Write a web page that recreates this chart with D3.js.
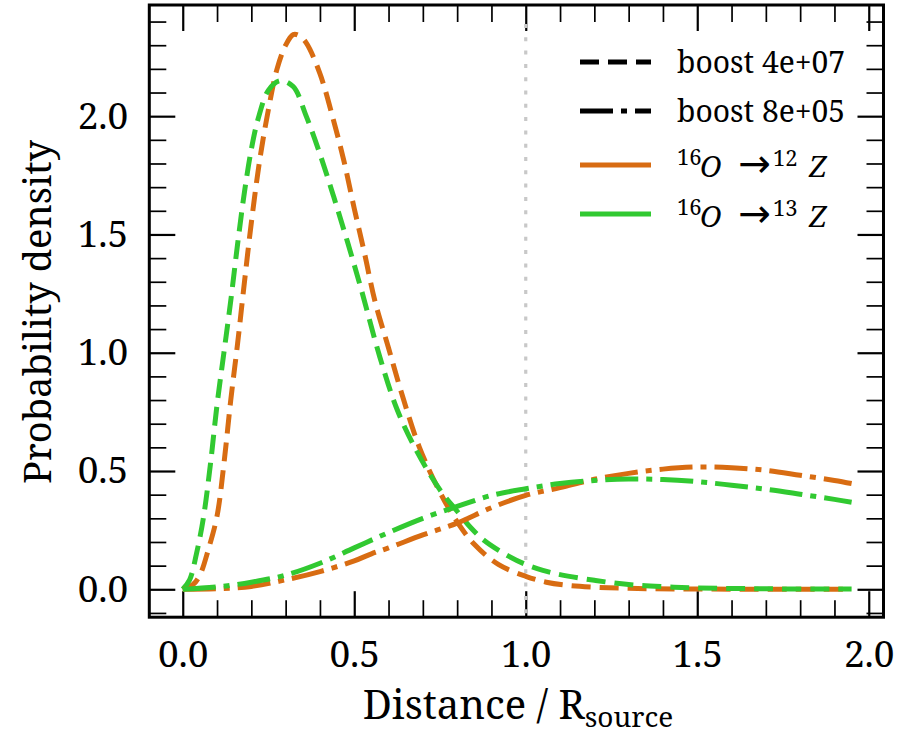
<!DOCTYPE html>
<html>
<head>
<meta charset="utf-8">
<script src="https://cdn.jsdelivr.net/npm/d3@7"></script>
<style>
  html, body { margin: 0; padding: 0; background: #fff; }
  svg { display: block; }
</style>
</head>
<body>
<svg id="chart" width="906" height="734"></svg>
<script>
// Distance / R_source vs probability density, [x, y] samples per curve
const o12Boost4e7 = [
  [0, 0], [0.03, 0.02], [0.05, 0.06], [0.075, 0.17], [0.1, 0.31], [0.12, 0.53],
  [0.14, 0.8], [0.16, 1.04], [0.18, 1.3], [0.2, 1.55], [0.225, 1.82], [0.25, 2.03],
  [0.275, 2.2], [0.3, 2.3], [0.322, 2.345], [0.34, 2.34], [0.36, 2.31], [0.4, 2.18],
  [0.44, 1.98], [0.47, 1.81], [0.5, 1.61], [0.53, 1.42], [0.56, 1.22], [0.6, 1.02],
  [0.64, 0.82], [0.69, 0.6], [0.75, 0.41], [0.8, 0.285], [0.85, 0.19], [0.92, 0.105],
  [1.0, 0.055], [1.06, 0.03], [1.12, 0.017], [1.2, 0.009], [1.3, 0.004], [1.5, 0.001],
  [1.95, 0]
];
const o13Boost4e7 = [
  [0, 0], [0.02, 0.04], [0.04, 0.15], [0.06, 0.3], [0.08, 0.52], [0.1, 0.78],
  [0.12, 1.0], [0.14, 1.22], [0.16, 1.46], [0.18, 1.68], [0.2, 1.86], [0.22, 1.99],
  [0.25, 2.11], [0.284, 2.15], [0.322, 2.125], [0.36, 2.0], [0.4, 1.84], [0.44, 1.66],
  [0.48, 1.47], [0.52, 1.27], [0.575, 0.98], [0.625, 0.76], [0.68, 0.59], [0.75, 0.42],
  [0.8, 0.33], [0.84, 0.26], [0.88, 0.205], [0.95, 0.14], [1.0, 0.105], [1.05, 0.08],
  [1.1, 0.062], [1.2, 0.038], [1.3, 0.02], [1.4, 0.011], [1.5, 0.006], [1.7, 0.002],
  [1.95, 0.001]
];
const o12Boost8e5 = [
  [0, 0], [0.1, 0.002], [0.2, 0.012], [0.3, 0.04], [0.4, 0.075], [0.5, 0.12],
  [0.55, 0.15], [0.6, 0.175], [0.7, 0.23], [0.8, 0.28], [0.9, 0.345], [1.0, 0.397],
  [1.1, 0.43], [1.2, 0.465], [1.3, 0.49], [1.4, 0.508], [1.5, 0.517], [1.6, 0.514],
  [1.7, 0.503], [1.8, 0.482], [1.9, 0.46], [1.95, 0.447]
];
const o13Boost8e5 = [
  [0, 0], [0.1, 0.01], [0.2, 0.03], [0.3, 0.06], [0.4, 0.11], [0.5, 0.175],
  [0.6, 0.24], [0.7, 0.3], [0.8, 0.35], [0.9, 0.397], [1.0, 0.425], [1.1, 0.447],
  [1.2, 0.46], [1.3, 0.466], [1.4, 0.464], [1.5, 0.455], [1.6, 0.44], [1.7, 0.423],
  [1.8, 0.402], [1.9, 0.38], [1.95, 0.368]
];

const xMajorTicks = [0, 0.5, 1.0, 1.5, 2.0];
const xMinorTicks = [0.1, 0.2, 0.3, 0.4, 0.6, 0.7, 0.8, 0.9, 1.1, 1.2, 1.3, 1.4, 1.6, 1.7, 1.8, 1.9];
const yMajorTicks = [0, 0.5, 1.0, 1.5, 2.0];
const yMinorTicks = [-0.1, 0.1, 0.2, 0.3, 0.4, 0.6, 0.7, 0.8, 0.9, 1.1, 1.2, 1.3, 1.4, 1.6, 1.7, 1.8, 1.9, 2.1, 2.2, 2.3, 2.4];
const referenceRadius = 1.0;

const orange = "#d86c12";
const green = "#31c931";
const FONT = "Noto Serif, Liberation Serif, serif";

const series = [
  { data: o12Boost4e7, color: orange, dash: "19,9" },
  { data: o13Boost4e7, color: green, dash: "19,9" },
  { data: o12Boost8e5, color: orange, dash: "33,8,6,8" },
  { data: o13Boost8e5, color: green, dash: "33,8,6,8" }
];

const legendItems = [
  { kind: "style", dash: "19,9", color: "#000", label: "boost 4e+07" },
  { kind: "style", dash: "33,8,6,8", color: "#000", label: "boost 8e+05" },
  { kind: "isotope", dash: null, color: orange, mass: "12" },
  { kind: "isotope", dash: null, color: green, mass: "13" }
];

const svg = d3.select("#chart").attr("font-family", FONT);
const plotLeft = 149.3, plotRight = 883.5, plotTop = 5, plotBottom = 617.2;

const x = d3.scaleLinear().domain([-0.0975, 2.043]).range([plotLeft, plotRight]);
const y = d3.scaleLinear().domain([-0.118, 2.47]).range([plotBottom, plotTop]);

const fmt = d3.format(".1f");
const majorLen = 26, minorLen = 17;

function styleAxis(g, width) {
  g.attr("font-family", FONT);
  g.select(".domain").remove();
  g.selectAll(".tick line").attr("stroke", "#000").attr("stroke-width", width);
}
function styleLabels(g) {
  g.selectAll(".tick text")
    .attr("font-size", 37).attr("fill", "#000").attr("font-family", FONT);
}

// Bottom axis with labels
svg.append("g").attr("transform", `translate(0,${plotBottom})`)
  .call(d3.axisBottom(x).tickValues(xMajorTicks).tickFormat(fmt).tickSizeInner(-majorLen).tickSizeOuter(0).tickPadding(24))
  .call(g => styleAxis(g, 2.2))
  .call(styleLabels);
svg.append("g").attr("transform", `translate(0,${plotBottom})`)
  .call(d3.axisBottom(x).tickValues(xMinorTicks).tickFormat("").tickSizeInner(-minorLen).tickSizeOuter(0))
  .call(g => styleAxis(g, 1.7));

// Top axis (ticks only)
svg.append("g").attr("transform", `translate(0,${plotTop})`)
  .call(d3.axisTop(x).tickValues(xMajorTicks).tickFormat("").tickSizeInner(-majorLen).tickSizeOuter(0))
  .call(g => styleAxis(g, 2.2));
svg.append("g").attr("transform", `translate(0,${plotTop})`)
  .call(d3.axisTop(x).tickValues(xMinorTicks).tickFormat("").tickSizeInner(-minorLen).tickSizeOuter(0))
  .call(g => styleAxis(g, 1.7));

// Left axis with labels
svg.append("g").attr("transform", `translate(${plotLeft},0)`)
  .call(d3.axisLeft(y).tickValues(yMajorTicks).tickFormat(fmt).tickSizeInner(-majorLen).tickSizeOuter(0).tickPadding(21))
  .call(g => styleAxis(g, 2.2))
  .call(styleLabels);
svg.append("g").attr("transform", `translate(${plotLeft},0)`)
  .call(d3.axisLeft(y).tickValues(yMinorTicks).tickFormat("").tickSizeInner(-minorLen).tickSizeOuter(0))
  .call(g => styleAxis(g, 1.7));

// Right axis (ticks only)
svg.append("g").attr("transform", `translate(${plotRight},0)`)
  .call(d3.axisRight(y).tickValues(yMajorTicks).tickFormat("").tickSizeInner(-majorLen).tickSizeOuter(0))
  .call(g => styleAxis(g, 2.2));
svg.append("g").attr("transform", `translate(${plotRight},0)`)
  .call(d3.axisRight(y).tickValues(yMinorTicks).tickFormat("").tickSizeInner(-minorLen).tickSizeOuter(0))
  .call(g => styleAxis(g, 1.7));

// Source radius marker
svg.append("line")
  .attr("x1", x(referenceRadius)).attr("x2", x(referenceRadius))
  .attr("y1", y.range()[0] - 4).attr("y2", y.range()[1] + 10)
  .attr("stroke", "#c8c8c8").attr("stroke-width", 3.2).attr("stroke-dasharray", "4,9.3");

// Curves
const line = d3.line().x(d => x(d[0])).y(d => y(d[1])).curve(d3.curveCatmullRom.alpha(0.5));
svg.append("g").attr("fill", "none")
  .selectAll("path").data(series).join("path")
  .attr("d", d => line(d.data))
  .attr("stroke", d => d.color)
  .attr("stroke-width", 5)
  .attr("stroke-dasharray", d => d.dash);

// Frame
svg.append("rect")
  .attr("x", plotLeft).attr("y", plotTop)
  .attr("width", plotRight - plotLeft).attr("height", plotBottom - plotTop)
  .attr("fill", "none").attr("stroke", "#000").attr("stroke-width", 3);

// Legend
const legendLineY = [62, 111, 165, 214];
const legendTextY = [72.7, 121.7, 176.7, 226.7];
const legendX = 677;
const legend = svg.append("g").attr("font-family", FONT).attr("fill", "#000");
legendItems.forEach((item, i) => {
  const by = legendTextY[i];
  legend.append("line")
    .attr("x1", 580).attr("x2", 651)
    .attr("y1", legendLineY[i]).attr("y2", legendLineY[i])
    .attr("stroke", item.color).attr("stroke-width", 5)
    .attr("stroke-dasharray", item.dash);
  if (item.kind === "style") {
    legend.append("text").attr("x", legendX).attr("y", by)
      .attr("font-size", 30).text(item.label);
  } else {
    const t = legend.append("text").attr("y", by).attr("font-size", 29);
    t.append("tspan").attr("x", legendX).attr("y", by - 12).attr("font-size", 22).text("16");
    t.append("tspan").attr("x", legendX + 23).attr("y", by).attr("font-style", "italic").text("O");
    t.append("tspan").attr("x", legendX + 61).attr("y", by)
      .attr("font-family", "DejaVu Sans").attr("font-size", 39).text("\u2192");
    t.append("tspan").attr("x", legendX + 96).attr("y", by - 11).attr("font-size", 22).text(item.mass);
    t.append("tspan").attr("x", legendX + 132).attr("y", by).attr("font-style", "italic").text("Z");
  }
});

// Axis titles
svg.append("text")
  .attr("transform", "translate(51,312) rotate(-90)")
  .attr("text-anchor", "middle")
  .attr("font-size", 38).attr("fill", "#000")
  .text("Probability density");

const xTitle = svg.append("text")
  .attr("x", 518).attr("y", 719)
  .attr("text-anchor", "middle")
  .attr("font-size", 40).attr("fill", "#000");
xTitle.append("tspan").text("Distance / R");
xTitle.append("tspan").attr("font-size", 28).attr("dy", 8).text("source");
</script>
</body>
</html>
